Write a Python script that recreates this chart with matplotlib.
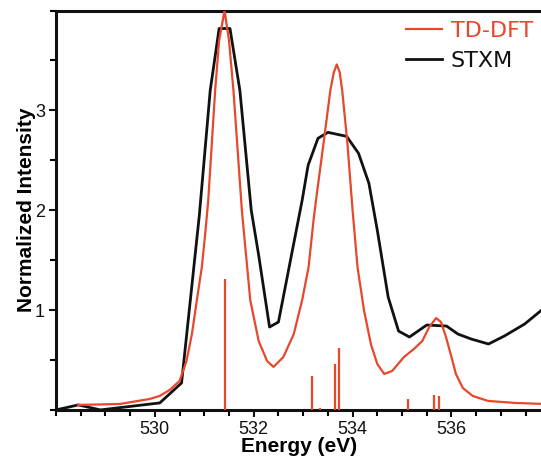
import matplotlib
matplotlib.use("Agg")
import matplotlib.pyplot as plt
from matplotlib.ticker import MultipleLocator

# TD-DFT broadened spectrum
tddft_E = [528.45, 528.9, 529.3, 529.9, 530.1, 530.3, 530.5, 530.64, 530.75, 530.85,
           530.95, 531.02, 531.08, 531.22, 531.3, 531.41, 531.5, 531.59, 531.76, 531.93,
           532.1, 532.27, 532.4, 532.6, 532.81, 532.98, 533.11, 533.21, 533.26, 533.42,
           533.55, 533.62, 533.68, 533.74, 533.79, 533.89, 534.0, 534.1, 534.23, 534.37,
           534.5, 534.64, 534.8, 535.04, 535.24, 535.41, 535.55, 535.69, 535.79, 535.89,
           536.0, 536.09, 536.23, 536.43, 536.74, 537.28, 537.85]
tddft_I = [0.05, 0.055, 0.06, 0.11, 0.14, 0.2, 0.29, 0.49, 0.76, 1.1,
           1.43, 1.77, 2.1, 3.2, 3.7, 4.0, 3.7, 3.2, 2.0, 1.1,
           0.69, 0.49, 0.43, 0.53, 0.76, 1.1, 1.43, 1.9, 2.1, 2.7,
           3.2, 3.38, 3.46, 3.38, 3.2, 2.7, 2.0, 1.43, 1.0, 0.66,
           0.46, 0.36, 0.39, 0.53, 0.61, 0.69, 0.83, 0.92, 0.88, 0.73,
           0.53, 0.36, 0.22, 0.14, 0.09, 0.07, 0.06]

# TD-DFT transitions (sticks)
stick_E = [531.42, 533.17, 533.34, 533.64, 533.72, 535.12, 535.65, 535.75]
stick_I = [1.31, 0.34, 0.02, 0.46, 0.62, 0.11, 0.15, 0.14]

# STXM experimental spectrum
stxm_E = [528.0, 528.45, 528.9, 530.1, 530.54, 530.9, 531.12, 531.3, 531.52, 531.72,
          531.95, 532.1, 532.32, 532.5, 532.98, 533.1, 533.3, 533.5, 533.88, 534.12,
          534.33, 534.5, 534.72, 534.93, 535.15, 535.5, 535.9, 536.13, 536.4, 536.75,
          537.07, 537.48, 537.85]
stxm_I = [0.0, 0.05, 0.0, 0.07, 0.27, 1.95, 3.2, 3.82, 3.82, 3.2,
          2.0, 1.55, 0.83, 0.88, 2.1, 2.45, 2.72, 2.78, 2.74, 2.57,
          2.27, 1.8, 1.13, 0.79, 0.73, 0.85, 0.84, 0.76, 0.71, 0.66,
          0.74, 0.86, 1.01]

xticks = [530, 532, 534, 536]
yticks = [1, 2, 3]

RED = "#e8472c"
BLACK = "#111111"

plt.rcParams['font.family'] = ['Liberation Sans', 'DejaVu Sans']

fig = plt.figure(figsize=(5.41, 4.58), dpi=100)
ax = fig.add_axes([0.1035, 0.105, 0.9, 0.872])

ax.plot(tddft_E, tddft_I, color=RED, lw=1.6, label="TD-DFT", zorder=3)
ax.vlines(stick_E, 0, stick_I, color=RED, lw=1.6, zorder=3)
ax.plot(stxm_E, stxm_I, color=BLACK, lw=2.0, label="STXM", zorder=2)

ax.set_xlim(528.0, 537.85)
ax.set_ylim(0, 4.0)
ax.set_xticks(xticks)
ax.set_yticks(yticks)
ax.xaxis.set_minor_locator(MultipleLocator(0.5))
ax.yaxis.set_minor_locator(MultipleLocator(0.5))
ax.tick_params(which='major', direction='out', length=5, width=1.5, labelsize=13, colors=BLACK)
ax.tick_params(which='minor', direction='out', length=4, width=1.5)
ax.tick_params(axis='x', pad=3)
ax.tick_params(axis='y', pad=3)

for s in ['left', 'bottom', 'top']:
    ax.spines[s].set_linewidth(2.2)
    ax.spines[s].set_color(BLACK)
ax.spines['right'].set_visible(False)

ax.set_xlabel("Energy (eV)", fontsize=15, fontweight='bold', labelpad=-1)
ax.set_ylabel("Normalized Intensity", fontsize=15, fontweight='bold', labelpad=-1)

leg = ax.legend(loc='upper right', bbox_to_anchor=(1.0, 1.0), frameon=False,
                handlelength=1.6, handletextpad=0.4, labelspacing=0.45,
                borderaxespad=0.05, labelcolor='linecolor',
                prop={'family': 'DejaVu Sans', 'size': 16})

fig.savefig("out.png", dpi=100)
